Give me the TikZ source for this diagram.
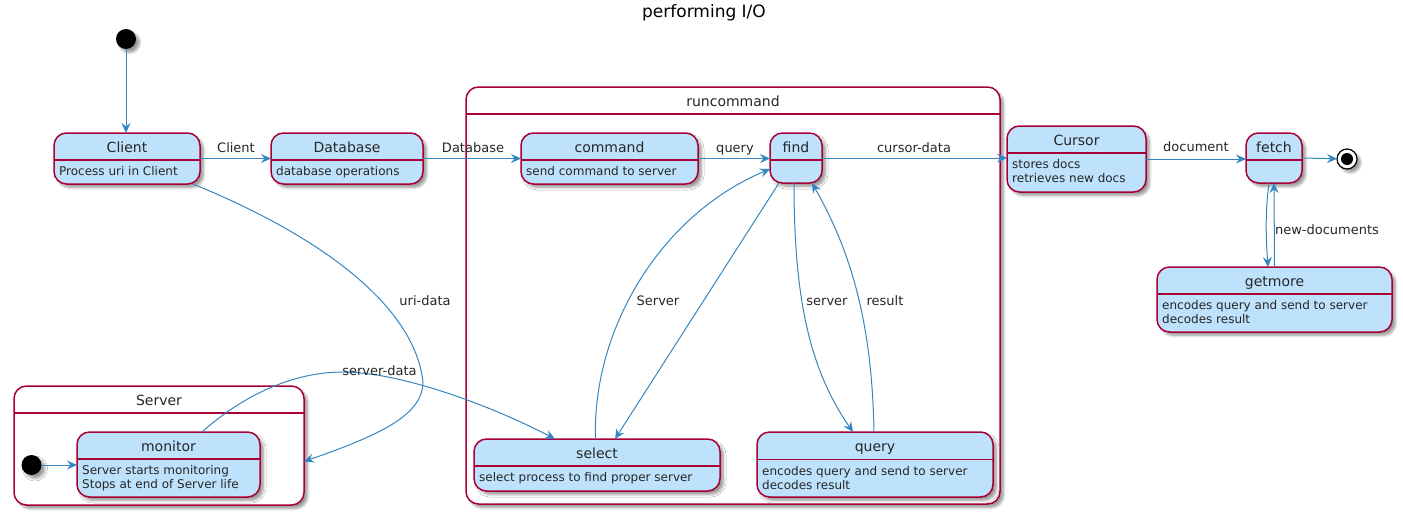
\documentclass[tikz,border=0pt]{standalone}
\usepackage{fontspec}
\setmainfont{DejaVu Sans}
\usetikzlibrary{arrows.meta,shadows,shadows.blur,calc}
\definecolor{stfill}{RGB}{190,226,252}
\definecolor{bord}{RGB}{168,0,54}
\definecolor{arrc}{RGB}{52,134,194}
\newcommand\fsTitle{\fontsize{17}{20}\selectfont}
\newcommand\fsState{\fontsize{14}{17}\selectfont}
\newcommand\fsDesc{\fontsize{12}{14}\selectfont}
\newcommand\fsLab{\fontsize{13}{15}\selectfont}
\tikzset{
  shad/.style={blur shadow={shadow xshift=3.5pt,shadow yshift=-3.5pt,shadow blur radius=2.5pt,shadow blur steps=6,shadow opacity=40}},
  statebox/.style={draw=bord,line width=1.5pt,fill=stfill,rounded corners=12.5pt,inner sep=0pt,outer sep=0pt,shad},
  container/.style={draw=bord,line width=1.5pt,fill=white,rounded corners=12.5pt,inner sep=0pt,outer sep=0pt,shad},
  sepline/.style={draw=bord,line width=1.5pt},
  sttitle/.style={font=\fsState,anchor=base,inner sep=0pt,text=black!85},
  stdesc/.style={font=\fsDesc,anchor=base west,inner sep=0pt,text=black!85},
  elabel/.style={font=\fsLab,anchor=base,inner sep=0pt,text=black!85},
  arr/.style={draw=arrc,line width=1pt,-{Stealth[length=10pt,width=9pt,inset=3.5pt]}},
  startc/.style={circle,fill=black,minimum size=20pt,inner sep=0pt,outer sep=0pt,shad},
  endc/.style={circle,draw=black,line width=1.2pt,fill=white,minimum size=20pt,inner sep=0pt,outer sep=0pt,shad,
    path picture={\fill[black] (path picture bounding box.center) circle (6pt);}}
}
% name x1 y1 x2 y2 sep title line1 line2
\newcommand\stbox[9]{%
  \pgfmathsetmacro\stW{#4-#2}\pgfmathsetmacro\stH{#5-#3}%
  \pgfmathsetmacro\stX{(#2+#4)/2}\pgfmathsetmacro\stY{(#3+#5)/2}%
  \pgfmathsetmacro\stT{(#3+#6)/2+5.5}%
  \node[statebox,minimum width=\stW pt,minimum height=\stH pt] (#1) at (\stX,\stY) {};
  \draw[sepline] (#2,#6) -- (#4,#6);
  \node[sttitle] (#1-title) at (\stX,\stT) {#7};
  \if\relax\detokenize{#8}\relax\else\node[stdesc] (#1-l1) at (#2+5,#6+15.5) {#8};\fi
  \if\relax\detokenize{#9}\relax\else\node[stdesc] (#1-l2) at (#2+5,#6+29.5) {#9};\fi
}
% name x1 y1 x2 y2 header title
\newcommand\ctbox[7]{%
  \pgfmathsetmacro\stW{#4-#2}\pgfmathsetmacro\stH{#5-#3}%
  \pgfmathsetmacro\stX{(#2+#4)/2}\pgfmathsetmacro\stY{(#3+#5)/2}%
  \pgfmathsetmacro\stT{(#3+#6)/2+5.5}%
  \node[container,minimum width=\stW pt,minimum height=\stH pt] (#1) at (\stX,\stY) {};
  \draw[sepline] (#2,#6) -- (#4,#6);
  \node[sttitle] (#1-title) at (\stX,\stT) {#7};
}
\begin{document}
\begin{tikzpicture}[x=1pt,y=-1pt]
\useasboundingbox (0,0) rectangle (1403,514);
\node[font=\fsTitle,anchor=base,inner sep=0pt] (title) at (704,17) {performing I/O};

% containers
\ctbox{runcommand}{466}{87}{1000}{504}{114}{runcommand}
\ctbox{server}{14}{386}{304}{505}{413}{Server}

% states
\stbox{client}{54}{133}{200}{184}{160}{Client}{Process uri in Client}{}
\stbox{database}{271}{133}{423}{184}{160}{Database}{database operations}{}
\stbox{command}{521}{133}{698}{184}{160}{command}{send command to server}{}
\stbox{find}{770}{133}{822}{183}{160}{find}{}{}
\stbox{cursor}{1007}{126}{1146}{192}{153}{Cursor}{stores docs}{retrieves new docs}
\stbox{fetch}{1246}{133}{1302}{183}{160}{fetch}{}{}
\stbox{getmore}{1157}{267}{1392}{332}{294}{getmore}{encodes query and send to server}{decodes result}
\stbox{monitor}{77}{432}{260}{497}{459}{monitor}{Server starts monitoring}{Stops at end of Server life}
\stbox{select}{474}{439}{720}{491}{466}{select}{select process to find proper server}{}
\stbox{query}{757}{432}{993}{497}{459.5}{query}{encodes query and send to server}{decodes result}

% pseudo states
\node[startc] (start) at (126,39) {};
\node[startc] (start2) at (31.5,465) {};
\node[endc] (end) at (1347,159) {};

% connectors
\draw[arr] (start.south) -- (start.south |- client.north);
\draw[arr] (client.east) -- (database.west);
\draw[arr] (database.east) -- (command.west);
\draw[arr] (command.east) -- (command.east -| find.west);
\draw[arr] (find.east) -- (find.east -| cursor.west);
\draw[arr] (cursor.east) -- (cursor.east -| fetch.west);
\draw[arr] (fetch.east) -- (end);
\draw[arr] ($(fetch.south)+(-5,0)$) .. controls +(-4,30) and +(-2,-30) .. ($(getmore.north)+(-6.5,0)$);
\draw[arr] (getmore.north) -- (fetch.south);
\draw[arr] (start2.east) -- (start2.east -| monitor.west);

\coordinate (urimid) at (423,382);
\draw[arr] ($(client.south east)+(-7,0)$) .. controls (330,240) and (415,310) .. (urimid)
   .. controls (423,415) and (380,435) .. ($(server.east)+(0,16)$);
\coordinate (sdtop) at (343,372);
\draw[arr] ($(monitor.north)+(33.5,0)$) .. controls (240,398) and (290,372) .. (sdtop)
   .. controls (400,372) and (490,405) .. ($(select.north)+(-42,0)$);
\draw[arr] ($(find.south)+(-17,0)$) -- ($(select.north)+(18,0)$);
\draw[arr] ($(select.north)+(-1.5,0)$) .. controls (592,330) and (660,215) .. ($(find.west)+(0,11)$);
\draw[arr] ($(find.south)+(-2,0)$) .. controls (794,300) and (810,370) .. ($(query.north)+(-22,0)$);
\draw[arr] ($(query.north)+(-1,0)$) .. controls (872,320) and (850,250) .. ($(find.south)+(16,0)$);

% labels
\node[elabel] (lclient) at (236,152) {Client};
\node[elabel] (ldatabase) at (473,152) {Database};
\node[elabel] (lquery) at (735,152) {query};
\node[elabel] (lcursor) at (914,152) {cursor-data};
\node[elabel] (ldocument) at (1196,151.5) {document};
\node[elabel] (lnewdocs) at (1327,234) {new-documents};
\node[elabel] (luri) at (425,305) {uri-data};
\node[elabel] (lserverdata) at (379.5,375) {server-data};
\node[elabel] (lServer) at (658,305) {Server};
\node[elabel] (lserver) at (827,305) {server};
\node[elabel] (lresult) at (885,305) {result};
\end{tikzpicture}
\end{document}
